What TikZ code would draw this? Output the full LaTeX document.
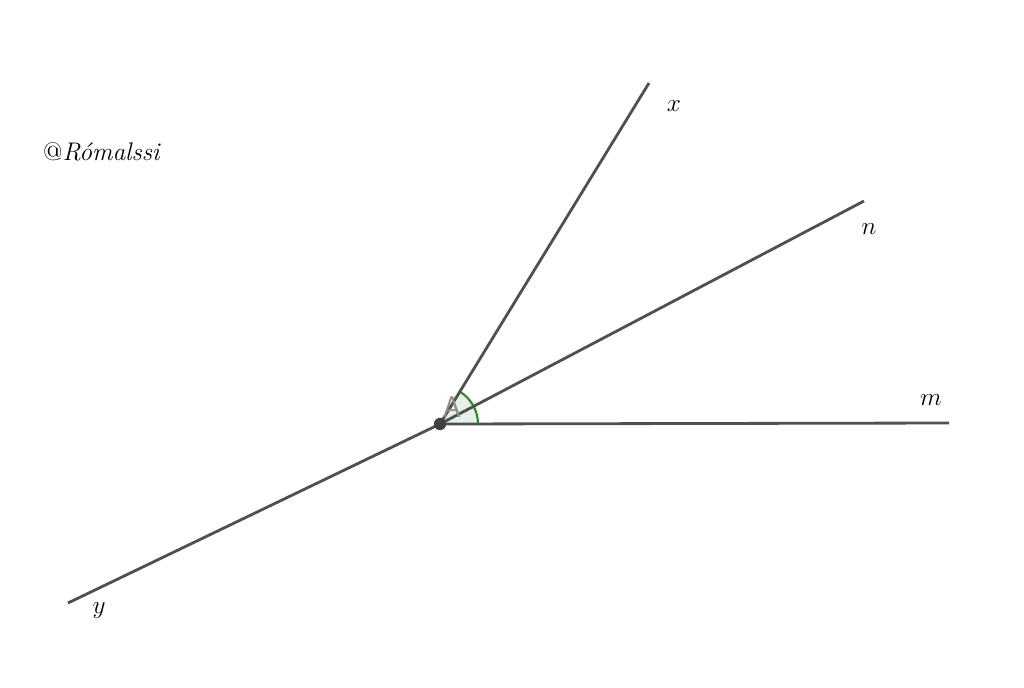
\documentclass[tikz,border=0pt]{standalone}
\usepackage{tikz}
\usepackage{xcolor}
\usetikzlibrary{shapes, arrows}
\definecolor{raygray}{RGB}{80,80,80}
\definecolor{arcgreen}{RGB}{40,140,40}
\tikzstyle{ray} = [line width=1.6pt, raygray]
\tikzstyle{lbl} = [font=\fontsize{14.5}{17}\selectfont]

\begin{document}
\begin{tikzpicture}[x=0.02cm, y=-0.02cm]
    \useasboundingbox (0,0) rectangle (1024,687);
    \coordinate (A) at (440,424);
    \coordinate (X) at (649,83);
    \coordinate (N) at (864,201);
    \coordinate (M) at (949,423);
    \coordinate (Y) at (68,603);
    \fill[arcgreen!12] (A) -- ([xshift=0.76cm]A) arc[start angle=0, end angle=58.5, radius=0.76cm] -- cycle;
    \draw[arcgreen, line width=1.2pt] ([xshift=0.76cm]A) arc[start angle=0, end angle=58.5, radius=0.76cm];
    \draw[ray] (A) -- (X);
    \draw[ray] (A) -- (N);
    \draw[ray] (A) -- (M);
    \draw[ray] (A) -- (Y);
    \node(ptA)[circle, fill=raygray!80!black, inner sep=0pt, minimum size=7pt] at (A) {};
    \node(lblA)[font=\sffamily\fontsize{17}{19}\selectfont, text=gray!90] at (452,407) {A};
    \node(lblx)[lbl] at (674,106) {$x$};
    \node(lbln)[lbl] at (869,229) {$n$};
    \node(lblm)[lbl] at (931,400) {$m$};
    \node(lbly)[lbl] at (99,611) {$y$};
    \node(credit)[lbl] at (102,152) {@\textit{Rómalssi}};
\end{tikzpicture}
\end{document}
